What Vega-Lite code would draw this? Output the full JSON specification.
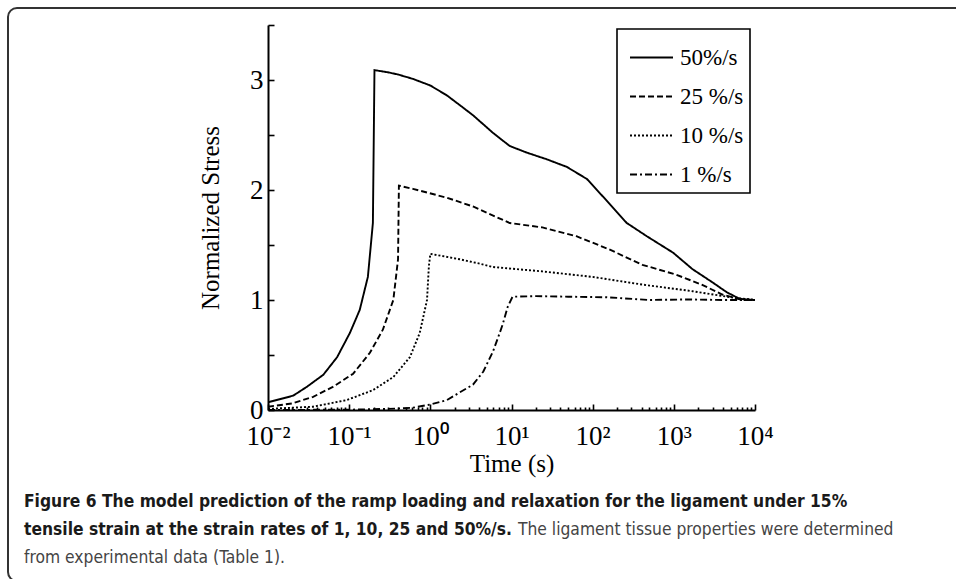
{
  "$schema": "https://vega.github.io/schema/vega-lite/v6.json",
  "width": 487,
  "height": 385,
  "autosize": {"type": "none"},
  "padding": {"left": 268, "top": 25, "right": 201, "bottom": 169},
  "background": "white",
  "config": {
    "view": {"stroke": null},
    "axis": {
      "domainColor": "black", "domainWidth": 2, "tickColor": "black", "tickWidth": 1.6,
      "labelFont": "Liberation Serif", "labelFontSize": 27, "labelColor": "black",
      "titleFont": "Liberation Serif", "titleFontSize": 25, "titleFontWeight": "normal", "titleColor": "black",
      "grid": false
    },
    "legend": {
      "orient": "none", "legendX": 349, "legendY": 4, "title": null,
      "symbolType": "stroke", "symbolSize": 1849, "symbolStrokeWidth": 1.8, "symbolStrokeColor": "black",
      "labelFont": "Liberation Serif", "labelFontSize": 23, "labelColor": "black",
      "strokeColor": "black", "strokeWidth": 1.6, "padding": 6, "rowPadding": 4,
      "symbolOffset": 6, "labelOffset": 6
    }
  },
  "datasets": {
    "curves": [
      {"rate": "50%/s", "t": 0.01, "s": 0.07}, {"rate": "50%/s", "t": 0.0204, "s": 0.13}, {"rate": "50%/s", "t": 0.03, "s": 0.21},
      {"rate": "50%/s", "t": 0.048, "s": 0.32}, {"rate": "50%/s", "t": 0.071, "s": 0.48}, {"rate": "50%/s", "t": 0.102, "s": 0.70},
      {"rate": "50%/s", "t": 0.135, "s": 0.91}, {"rate": "50%/s", "t": 0.17, "s": 1.21}, {"rate": "50%/s", "t": 0.196, "s": 1.70},
      {"rate": "50%/s", "t": 0.205, "s": 3.09}, {"rate": "50%/s", "t": 0.3, "s": 3.07}, {"rate": "50%/s", "t": 0.4, "s": 3.05},
      {"rate": "50%/s", "t": 0.61, "s": 3.01}, {"rate": "50%/s", "t": 1.0, "s": 2.95}, {"rate": "50%/s", "t": 1.6, "s": 2.86},
      {"rate": "50%/s", "t": 2.32, "s": 2.77}, {"rate": "50%/s", "t": 3.35, "s": 2.68}, {"rate": "50%/s", "t": 5.9, "s": 2.52},
      {"rate": "50%/s", "t": 9.5, "s": 2.40}, {"rate": "50%/s", "t": 15.4, "s": 2.34}, {"rate": "50%/s", "t": 27, "s": 2.28},
      {"rate": "50%/s", "t": 48, "s": 2.21}, {"rate": "50%/s", "t": 85, "s": 2.10}, {"rate": "50%/s", "t": 134, "s": 1.94},
      {"rate": "50%/s", "t": 263, "s": 1.70}, {"rate": "50%/s", "t": 464, "s": 1.58}, {"rate": "50%/s", "t": 980, "s": 1.43},
      {"rate": "50%/s", "t": 1700, "s": 1.28}, {"rate": "50%/s", "t": 3000, "s": 1.16}, {"rate": "50%/s", "t": 4500, "s": 1.07},
      {"rate": "50%/s", "t": 6500, "s": 1.01}, {"rate": "50%/s", "t": 10000, "s": 1.0},

      {"rate": "25 %/s", "t": 0.01, "s": 0.03}, {"rate": "25 %/s", "t": 0.02, "s": 0.06}, {"rate": "25 %/s", "t": 0.036, "s": 0.12},
      {"rate": "25 %/s", "t": 0.063, "s": 0.21}, {"rate": "25 %/s", "t": 0.112, "s": 0.33}, {"rate": "25 %/s", "t": 0.18, "s": 0.52},
      {"rate": "25 %/s", "t": 0.26, "s": 0.73}, {"rate": "25 %/s", "t": 0.35, "s": 1.0}, {"rate": "25 %/s", "t": 0.40, "s": 1.37},
      {"rate": "25 %/s", "t": 0.41, "s": 2.04}, {"rate": "25 %/s", "t": 0.61, "s": 2.01}, {"rate": "25 %/s", "t": 1.6, "s": 1.93},
      {"rate": "25 %/s", "t": 3.35, "s": 1.85}, {"rate": "25 %/s", "t": 9.5, "s": 1.70}, {"rate": "25 %/s", "t": 24, "s": 1.66},
      {"rate": "25 %/s", "t": 63, "s": 1.58}, {"rate": "25 %/s", "t": 160, "s": 1.46}, {"rate": "25 %/s", "t": 410, "s": 1.32},
      {"rate": "25 %/s", "t": 1070, "s": 1.23}, {"rate": "25 %/s", "t": 2200, "s": 1.14}, {"rate": "25 %/s", "t": 3950, "s": 1.05},
      {"rate": "25 %/s", "t": 7000, "s": 1.0}, {"rate": "25 %/s", "t": 10000, "s": 1.0},

      {"rate": "10 %/s", "t": 0.01, "s": 0.01}, {"rate": "10 %/s", "t": 0.036, "s": 0.03}, {"rate": "10 %/s", "t": 0.093, "s": 0.09},
      {"rate": "10 %/s", "t": 0.196, "s": 0.18}, {"rate": "10 %/s", "t": 0.35, "s": 0.30}, {"rate": "10 %/s", "t": 0.56, "s": 0.48},
      {"rate": "10 %/s", "t": 0.74, "s": 0.70}, {"rate": "10 %/s", "t": 0.91, "s": 1.0}, {"rate": "10 %/s", "t": 0.96, "s": 1.31},
      {"rate": "10 %/s", "t": 1.0, "s": 1.42}, {"rate": "10 %/s", "t": 2.3, "s": 1.37}, {"rate": "10 %/s", "t": 4.1, "s": 1.33},
      {"rate": "10 %/s", "t": 5.9, "s": 1.30}, {"rate": "10 %/s", "t": 24, "s": 1.26}, {"rate": "10 %/s", "t": 100, "s": 1.21},
      {"rate": "10 %/s", "t": 410, "s": 1.14}, {"rate": "10 %/s", "t": 1700, "s": 1.08}, {"rate": "10 %/s", "t": 4500, "s": 1.03},
      {"rate": "10 %/s", "t": 10000, "s": 1.0},

      {"rate": "1 %/s", "t": 0.01, "s": 0.0}, {"rate": "1 %/s", "t": 0.1, "s": 0.003}, {"rate": "1 %/s", "t": 0.3, "s": 0.01},
      {"rate": "1 %/s", "t": 0.6, "s": 0.02}, {"rate": "1 %/s", "t": 1.0, "s": 0.05}, {"rate": "1 %/s", "t": 1.6, "s": 0.09},
      {"rate": "1 %/s", "t": 2.3, "s": 0.16}, {"rate": "1 %/s", "t": 3.35, "s": 0.23}, {"rate": "1 %/s", "t": 4.5, "s": 0.35},
      {"rate": "1 %/s", "t": 5.9, "s": 0.53}, {"rate": "1 %/s", "t": 7.0, "s": 0.68}, {"rate": "1 %/s", "t": 7.8, "s": 0.78},
      {"rate": "1 %/s", "t": 9, "s": 0.94}, {"rate": "1 %/s", "t": 10.3, "s": 1.03}, {"rate": "1 %/s", "t": 20, "s": 1.035},
      {"rate": "1 %/s", "t": 50, "s": 1.03}, {"rate": "1 %/s", "t": 150, "s": 1.025}, {"rate": "1 %/s", "t": 500, "s": 1.0},
      {"rate": "1 %/s", "t": 1500, "s": 1.005}, {"rate": "1 %/s", "t": 4000, "s": 1.0}, {"rate": "1 %/s", "t": 10000, "s": 1.0}
    ],
    "caption": [
      {"part": "b1", "text": "Figure 6 The model prediction of the ramp loading and relaxation for the ligament under 15%"},
      {"part": "b2", "text": "tensile strain at the strain rates of 1, 10, 25 and 50%/s."},
      {"part": "n2", "text": "The ligament tissue properties were determined"},
      {"part": "n3", "text": "from experimental data (Table 1)."}
    ]
  },
  "layer": [
    {
      "data": {"values": [{"frame": "figure"}]},
      "mark": {"type": "rect", "fill": null, "stroke": "#333333", "strokeWidth": 2, "cornerRadius": 9},
      "encoding": {
        "x": {"value": -260}, "x2": {"value": 700},
        "y": {"value": -17}, "y2": {"value": 556}
      }
    },
    {
      "data": {"name": "curves"},
      "mark": {"type": "line", "color": "black", "strokeWidth": 1.9, "clip": true},
      "encoding": {
        "x": {
          "field": "t", "type": "quantitative",
          "scale": {"type": "log", "base": 10, "domain": [0.01, 10000], "nice": false},
          "axis": {
            "title": "Time (s)", "titlePadding": 2,
            "values": [0.01, 0.1, 1, 10, 100, 1000, 10000],
            "ticks": false,
            "labelExpr": "datum.value < 0.05 ? '10⁻²' : datum.value < 0.5 ? '10⁻¹' : datum.value < 5 ? '10⁰' : datum.value < 50 ? '10¹' : datum.value < 500 ? '10²' : datum.value < 5000 ? '10³' : '10⁴'",
            "labelPadding": 13,
            "labelFlush": false,
            "labelOverlap": false
          }
        },
        "y": {
          "field": "s", "type": "quantitative",
          "scale": {"domain": [0, 3.5], "nice": false},
          "axis": {
            "title": "Normalized Stress", "titlePadding": 26,
            "values": [0, 1, 2, 3],
            "ticks": false,
            "labelExpr": "format(datum.value, 'd')",
            "labelPadding": 5,
            "labelFlush": false,
            "labelOverlap": false
          }
        },
        "strokeDash": {
          "field": "rate", "type": "nominal",
          "scale": {"domain": ["50%/s", "25 %/s", "10 %/s", "1 %/s"], "range": [[1, 0], [6, 3], [2, 2], [7, 3, 2, 3]]}
        }
      }
    },
    {
      "data": {"name": "curves"},
      "mark": {"type": "point", "opacity": 0, "size": 1},
      "encoding": {
        "x": {
          "field": "t", "type": "quantitative",
          "scale": {"type": "log", "base": 10, "domain": [0.01, 10000], "nice": false},
          "axis": {
            "orient": "top", "offset": -385, "title": null, "domain": false, "labels": false,
            "values": [0.01, 0.02, 0.03, 0.04, 0.05, 0.06, 0.07, 0.08, 0.09,
                       0.1, 0.2, 0.3, 0.4, 0.5, 0.6, 0.7, 0.8, 0.9,
                       1, 2, 3, 4, 5, 6, 7, 8, 9,
                       10, 20, 30, 40, 50, 60, 70, 80, 90,
                       100, 200, 300, 400, 500, 600, 700, 800, 900,
                       1000, 2000, 3000, 4000, 5000, 6000, 7000, 8000, 9000, 10000],
            "tickSize": {"condition": {"test": "abs(log(datum.value)/LN10 - round(log(datum.value)/LN10)) < 0.001", "value": 6}, "value": 3}
          }
        },
        "y": {
          "field": "s", "type": "quantitative",
          "scale": {"domain": [0, 3.5], "nice": false},
          "axis": {
            "orient": "right", "offset": -487, "title": null, "domain": false, "labels": false,
            "values": [0, 0.5, 1, 1.5, 2, 2.5, 3, 3.5],
            "tickSize": 6
          }
        }
      }
    },
    {
      "data": {"name": "caption"},
      "transform": [{"filter": "datum.part == 'b1'"}],
      "mark": {"type": "text", "align": "left", "baseline": "alphabetic", "font": "DejaVu Sans Condensed, sans-serif", "fontSize": 17.3, "fontWeight": "bold", "color": "#1a1a1a"},
      "encoding": {"text": {"field": "text"}, "x": {"value": -244}, "y": {"value": 482}}
    },
    {
      "data": {"name": "caption"},
      "transform": [{"filter": "datum.part == 'b2'"}],
      "mark": {"type": "text", "align": "left", "baseline": "alphabetic", "font": "DejaVu Sans Condensed, sans-serif", "fontSize": 17.3, "fontWeight": "bold", "color": "#1a1a1a"},
      "encoding": {"text": {"field": "text"}, "x": {"value": -244}, "y": {"value": 510}}
    },
    {
      "data": {"name": "caption"},
      "transform": [{"filter": "datum.part == 'n2'"}],
      "mark": {"type": "text", "align": "left", "baseline": "alphabetic", "font": "DejaVu Sans Condensed, sans-serif", "fontSize": 17.3, "color": "#444444"},
      "encoding": {"text": {"field": "text"}, "x": {"value": 250}, "y": {"value": 510}}
    },
    {
      "data": {"name": "caption"},
      "transform": [{"filter": "datum.part == 'n3'"}],
      "mark": {"type": "text", "align": "left", "baseline": "alphabetic", "font": "DejaVu Sans Condensed, sans-serif", "fontSize": 17.3, "color": "#444444"},
      "encoding": {"text": {"field": "text"}, "x": {"value": -244}, "y": {"value": 538}}
    }
  ],
  "resolve": {"axis": {"x": "independent", "y": "independent"}}
}
